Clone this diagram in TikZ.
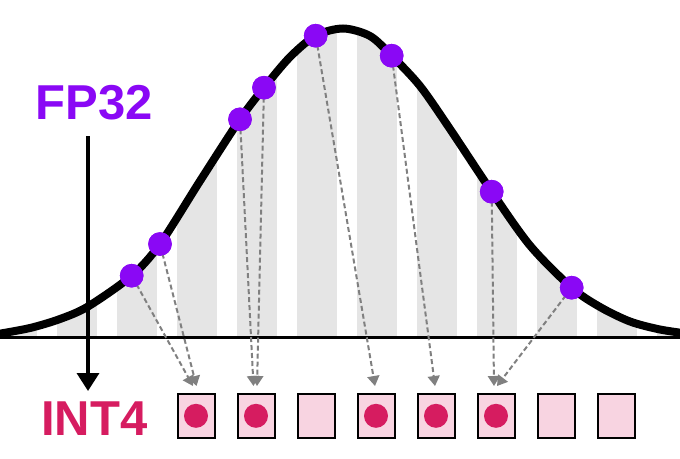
\documentclass[tikz,border=0pt]{standalone}
\usepackage{fontspec}
\setmainfont{Liberation Sans}
\usetikzlibrary{arrows.meta}
\definecolor{fppurple}{RGB}{138,8,245}
\definecolor{intred}{RGB}{214,28,96}
\definecolor{stripegray}{RGB}{229,229,229}
\definecolor{boxpink}{RGB}{248,212,225}
\definecolor{dashgray}{RGB}{128,128,128}
\begin{document}
\begin{tikzpicture}[x=1pt,y=-1pt,
  fpt/.style={circle,fill=fppurple,minimum size=23.6pt,inner sep=0pt},
  ibox/.style={rectangle,draw=black,fill=boxpink,line width=2pt,minimum width=37pt,minimum height=44.5pt,inner sep=0pt},
  idot/.style={circle,fill=intred,minimum size=24pt,inner sep=0pt},
  qarrow/.style={draw=dashgray,line width=2pt,dash pattern=on 5pt off 3pt,-{Triangle[width=12pt,length=10pt]},shorten <=-2pt},
  lbl/.style={font=\fontsize{49}{49}\selectfont\bfseries,inner sep=0pt},
  curveline/.style={line width=8pt},
  axisline/.style={line width=3pt},
  stripe/.style={fill=stripegray}]
\useasboundingbox (0,0) rectangle (680,458);
% stripes under the curve
\begin{scope}
\clip (-5,337) -- plot[smooth] coordinates {(-5,334.5) (30,328) (60,319) (88,306.5) (131.7,275.7) (160,244) (200,181) (240,119.3) (264,87.7) (290,57) (315.7,35.7) (343,28.5) (370,36) (391.7,55.7) (420,86) (450,129) (491.7,191.7) (530,245.5) (571.7,287.7) (600,307) (630,321.5) (660,329.5) (690,334)} -- (690,337) -- cycle;
\foreach \k in {-1,...,10} \fill[stripe] (57+60*\k,0) rectangle (97+60*\k,337);
\end{scope}
% baseline
\coordinate (bl) at (-5,337);
\coordinate (br) at (685,337);
\draw[axisline] (bl) -- (br);
% curve
\draw[curveline] plot[smooth] coordinates {(-5,334.5) (30,328) (60,319) (88,306.5) (131.7,275.7) (160,244) (200,181) (240,119.3) (264,87.7) (290,57) (315.7,35.7) (343,28.5) (370,36) (391.7,55.7) (420,86) (450,129) (491.7,191.7) (530,245.5) (571.7,287.7) (600,307) (630,321.5) (660,329.5) (690,334)};
% vertical arrow
\coordinate (vtop) at (88,136);
\coordinate (vbot) at (88,391);
\draw[line width=3.5pt,-{Triangle[width=22pt,length=18pt]}] (vtop) -- (vbot);
% points
\node[fpt] (p1) at (131.7,275.7) {};
\node[fpt] (p2) at (160,244) {};
\node[fpt] (p3) at (240,119.3) {};
\node[fpt] (p4) at (264,87.7) {};
\node[fpt] (p5) at (315.7,35.7) {};
\node[fpt] (p6) at (391.7,55.7) {};
\node[fpt] (p7) at (491.7,191.7) {};
\node[fpt] (p8) at (571.7,287.7) {};
% arrow ends
\coordinate (e1) at (193,386);
\coordinate (e2) at (196.5,386);
\coordinate (e3) at (253.5,386);
\coordinate (e4) at (257,386);
\coordinate (e5) at (375,386);
\coordinate (e6) at (435,386);
\coordinate (e7) at (494,386);
\coordinate (e8) at (497,386);
\foreach \i in {1,...,8} \draw[qarrow] (p\i) -- (e\i);
% redraw points on top
\foreach \i/\x/\y in {1/131.7/275.7,2/160/244,3/240/119.3,4/264/87.7,5/315.7/35.7,6/391.7/55.7,7/491.7/191.7,8/571.7/287.7}
  \fill[fppurple] (\x,\y) circle[radius=11.8pt];
% boxes
\foreach \i in {1,...,8} \node[ibox] (b\i) at (136+60*\i,415.8) {};
\foreach \i in {1,2,4,5,6} \node[idot] (d\i) at (b\i.center) {};
% labels
\node[lbl,text=fppurple] (fp) at (94,102.5) {FP32};
\node[lbl,text=intred] (int) at (94.2,418.8) {INT4};
\end{tikzpicture}
\end{document}
